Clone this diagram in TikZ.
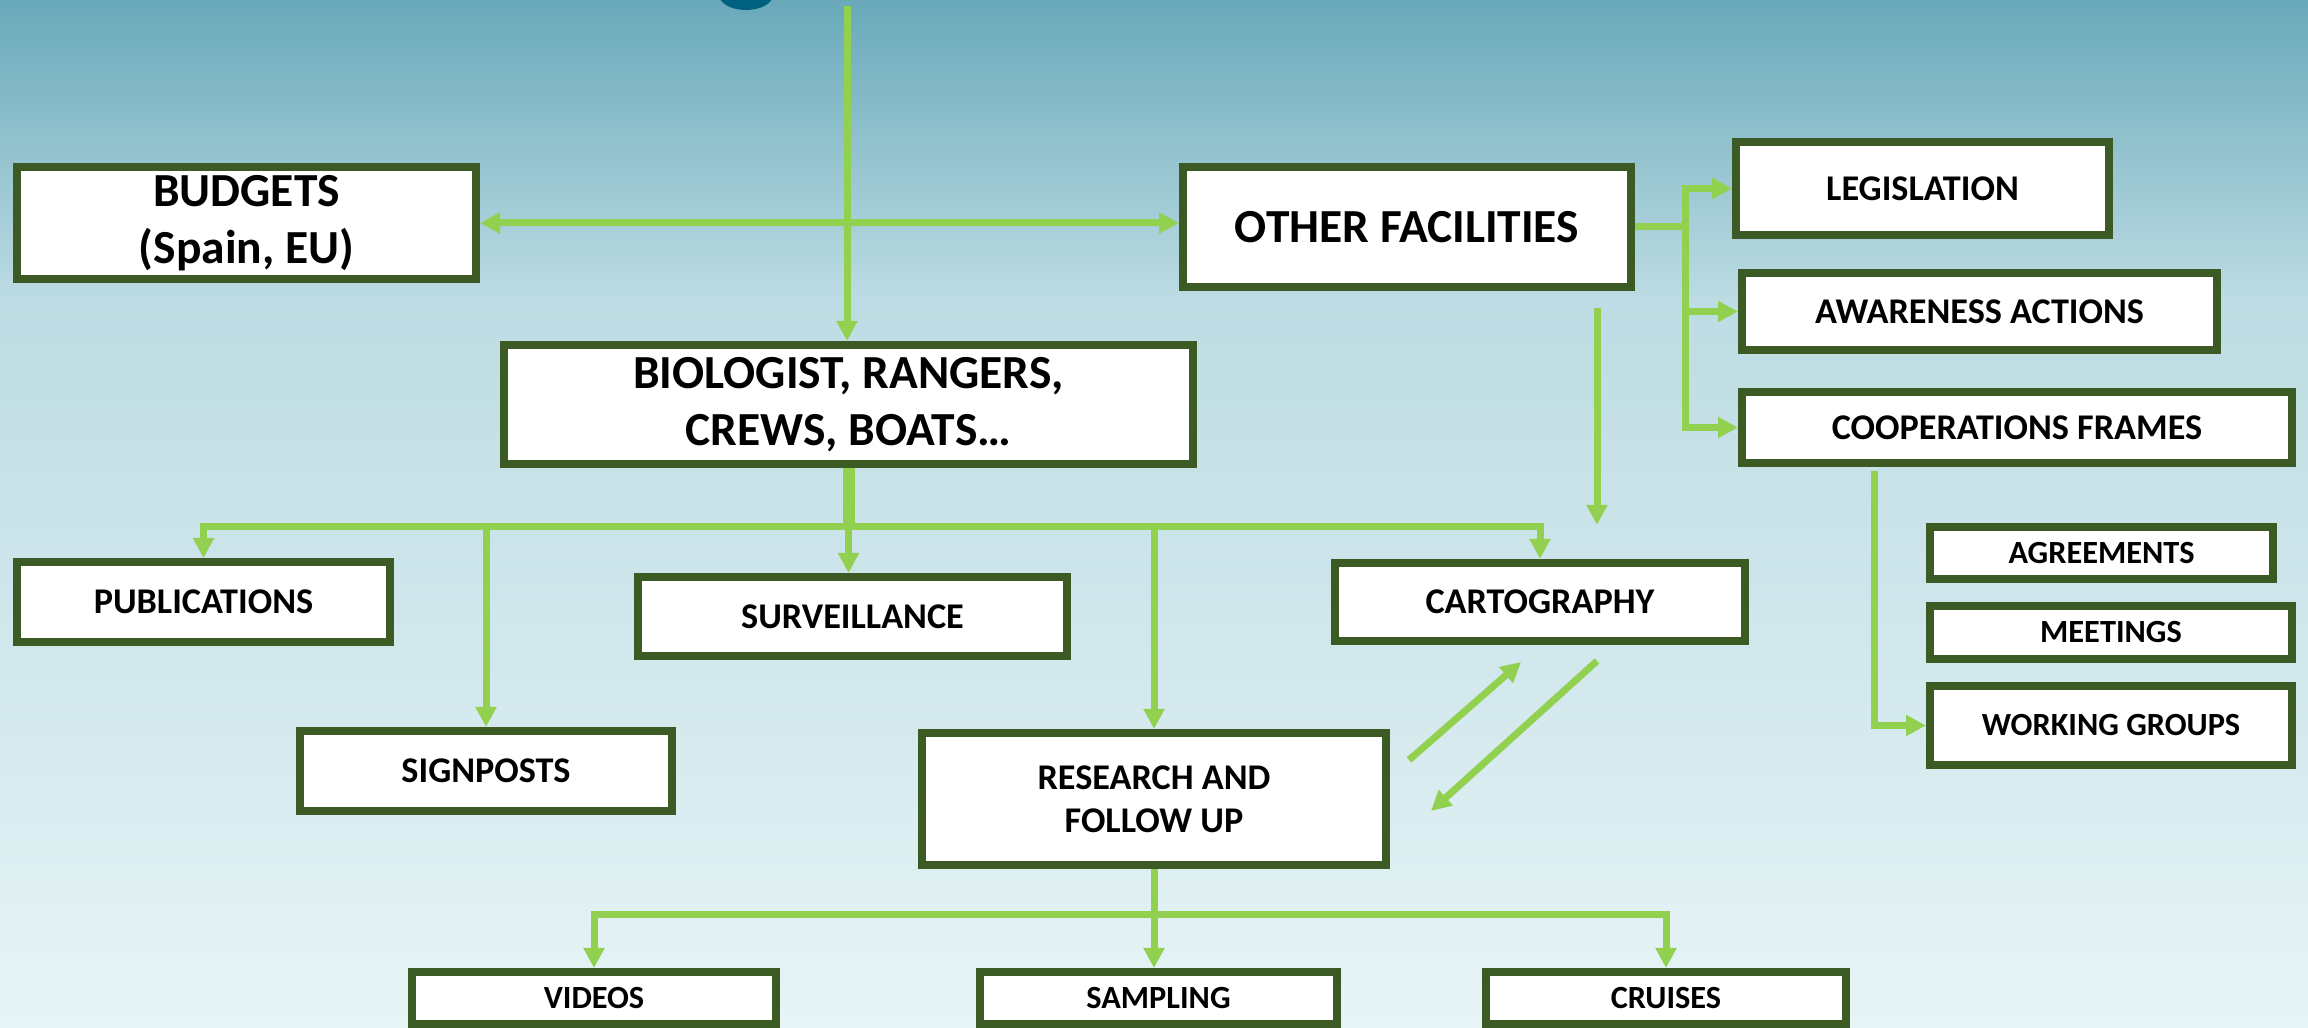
\documentclass[tikz,border=0pt]{standalone}
\usepackage{fontspec}
\setmainfont{Carlito}
\usetikzlibrary{arrows.meta, positioning, calc}
\definecolor{boxgreen}{HTML}{3C5A24}
\definecolor{linkgreen}{HTML}{92D050}
\definecolor{seatop}{HTML}{69A9BA}
\definecolor{seamid}{HTML}{BDDCE3}
\definecolor{sealow}{HTML}{DFEFF2}
\definecolor{seabot}{HTML}{E7F4F6}
\definecolor{blobblue}{HTML}{00607F}
\tikzstyle{box} = [rectangle, draw=boxgreen, fill=white, line width=0.08cm, align=center, inner sep=0pt]
\tikzstyle{bigbox} = [box, font=\fontsize{13.5}{16.2}\selectfont\bfseries]
\tikzstyle{midbox} = [box, font=\fontsize{10.3}{12.3}\selectfont\bfseries]
\tikzstyle{smallbox} = [box, font=\fontsize{9.2}{11}\selectfont\bfseries]
\tikzstyle{link} = [draw=linkgreen, line width=0.07cm]
\tikzstyle{arrow} = [link, -{Triangle[length=0.2cm, width=0.2cm]}]
\tikzstyle{twoway} = [link, {Triangle[length=0.2cm, width=0.2cm]}-{Triangle[length=0.2cm, width=0.2cm]}]

\begin{document}
\begin{tikzpicture}
\useasboundingbox (0,0) rectangle (23.08,10.28);
\shade[top color=seamid, middle color=sealow, bottom color=seabot] (0,0) rectangle (23.08,7.29);
\shade[top color=seatop, bottom color=seamid] (0,7.27) rectangle (23.08,10.28);
\fill[blobblue] (7.46,10.33) ellipse (0.27 and 0.15);

% top row
\node[bigbox, minimum width=4.59cm, minimum height=1.12cm] (budgets) at (2.465,8.05) {BUDGETS\\(Spain, EU)};
\node[bigbox, minimum width=4.48cm, minimum height=1.20cm] (other) at (14.07,8.01) {OTHER FACILITIES};
\node[midbox, minimum width=3.73cm, minimum height=0.93cm] (legis) at (19.225,8.395) {LEGISLATION};
\node[midbox, minimum width=4.75cm, minimum height=0.77cm] (aware) at (19.795,7.165) {AWARENESS ACTIONS};
\node[midbox, minimum width=5.50cm, minimum height=0.71cm] (coop) at (20.17,6.005) {COOPERATIONS FRAMES};
\node[bigbox, minimum width=6.89cm, minimum height=1.19cm] (bio) at (8.485,6.235) {BIOLOGIST, RANGERS,\\CREWS, BOATS…};

% middle rows
\node[midbox, minimum width=3.73cm, minimum height=0.80cm] (pub) at (2.035,4.26) {PUBLICATIONS};
\node[midbox, minimum width=4.29cm, minimum height=0.79cm] (surv) at (8.525,4.115) {SURVEILLANCE};
\node[midbox, minimum width=4.10cm, minimum height=0.78cm] (carto) at (15.40,4.26) {CARTOGRAPHY};
\node[midbox, minimum width=3.72cm, minimum height=0.80cm] (sign) at (4.86,2.57) {SIGNPOSTS};
\node[midbox, minimum width=4.64cm, minimum height=1.32cm] (research) at (11.54,2.29) {RESEARCH AND\\FOLLOW UP};
\node[smallbox, minimum width=3.43cm, minimum height=0.52cm] (agree) at (21.015,4.75) {AGREEMENTS};
\node[smallbox, minimum width=3.62cm, minimum height=0.53cm] (meet) at (21.11,3.955) {MEETINGS};
\node[smallbox, minimum width=3.62cm, minimum height=0.79cm] (working) at (21.11,3.025) {WORKING GROUPS};

% bottom row
\node[smallbox, minimum width=3.64cm, minimum height=0.52cm] (videos) at (5.94,0.30) {VIDEOS};
\node[smallbox, minimum width=3.57cm, minimum height=0.52cm] (sampling) at (11.585,0.30) {SAMPLING};
\node[smallbox, minimum width=3.60cm, minimum height=0.52cm] (cruises) at (16.66,0.30) {CRUISES};

% connectors
\coordinate (topin) at (8.47,10.22);
\draw[arrow] (topin) -- (topin |- bio.north);
\draw[twoway] (budgets.east) -- (other.west |- budgets.east);

\coordinate (ofork) at ($(other.east)+(0.5,0)$);
\draw[link] (other.east) -- (ofork);
\draw[arrow] (ofork) |- (legis.west);
\draw[arrow] (ofork) |- (aware.west);
\draw[arrow] (ofork) |- (coop.west);

\coordinate (cfree1) at (15.97,7.20);
\coordinate (cfree2) at (15.97,5.03);
\draw[arrow] (cfree1) -- (cfree2);

\coordinate (bbus) at ($(bio.south)+(0,-0.59)$);
\draw[link, line width=0.12cm] (bio.south) -- (bbus);
\draw[arrow] (bbus) -| (pub.north);
\draw[arrow] (bbus) -| (sign.north);
\draw[arrow] (bbus) -- (bbus |- surv.north);
\draw[arrow] (bbus) -| (research.north);
\draw[arrow] (bbus) -| (carto.north);

\coordinate (rbus) at ($(research.south)+(0,-0.46)$);
\draw[link] (research.south) -- (rbus);
\draw[arrow] (rbus) -| (videos.north);
\draw[arrow] (rbus) -- (rbus |- sampling.north);
\draw[arrow] (rbus) -| (cruises.north);

\draw[arrow] ($(coop.south west)+(1.36,-0.04)$) |- (working.west);

\coordinate (d1a) at (14.09,2.68);
\coordinate (d1b) at (15.21,3.66);
\coordinate (d2a) at (15.97,3.67);
\coordinate (d2b) at (14.31,2.17);
\draw[arrow] (d1a) -- (d1b);
\draw[arrow] (d2a) -- (d2b);
\end{tikzpicture}
\end{document}
